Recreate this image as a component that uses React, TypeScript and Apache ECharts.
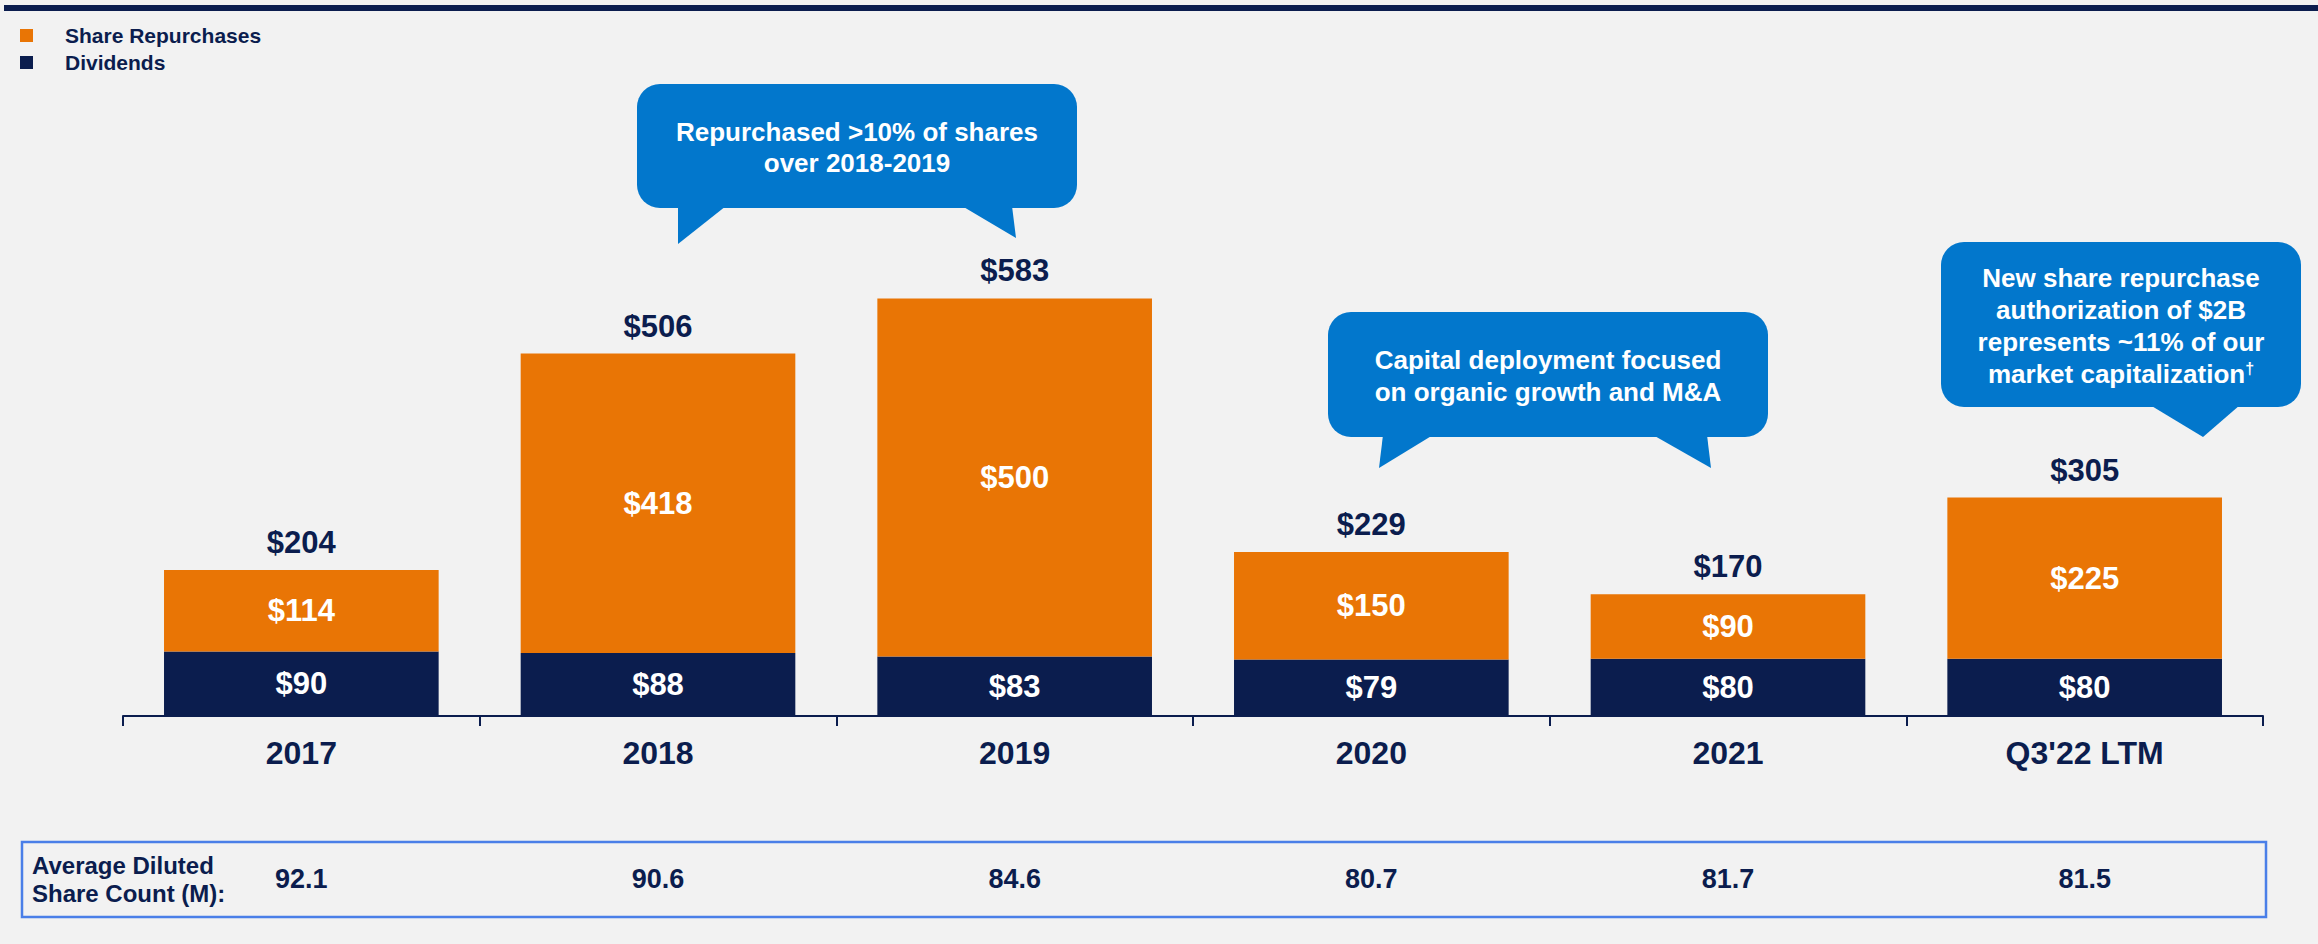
import React, { useEffect, useRef } from "react";
import * as echarts from "echarts";

const categories = ["2017", "2018", "2019", "2020", "2021", "Q3'22 LTM"];
const dividends = [90, 88, 83, 79, 80, 80];
const repurchases = [114, 418, 500, 150, 90, 225];
const totals = [204, 506, 583, 229, 170, 305];
const shareCounts = ["92.1", "90.6", "84.6", "80.7", "81.7", "81.5"];
const seriesNames = ["Share Repurchases", "Dividends"];
const callout1 = "Repurchased >10% of shares\nover 2018-2019";
const callout2 = "Capital deployment focused\non organic growth and M&A";
const callout3Lines = ["New share repurchase", "authorization of $2B", "represents ~11% of our"];
const callout3Last = "market capitalization";
const tableTitle = "Average Diluted\nShare Count (M):";

const NAVY = "#0b1d4e";
const ORANGE = "#e97505";
const BLUE = "#0277cc";
const FONT = "'Liberation Sans', Arial, Helvetica, sans-serif";

function bubble(rect: number[], tails: number[][][], text: any, textPos: number[], lineHeight: number) {
  const children: any[] = [
    {
      type: "rect",
      shape: { x: rect[0], y: rect[1], width: rect[2], height: rect[3], r: 23 },
      style: { fill: BLUE },
    },
  ];
  tails.forEach((pts) => {
    children.push({ type: "polygon", shape: { points: pts }, style: { fill: BLUE } });
  });
  children.push({
    type: "text",
    x: textPos[0],
    y: textPos[1],
    style: {
      ...text,
      fill: "#ffffff",
      fontSize: 26,
      fontWeight: "bold",
      fontFamily: FONT,
      lineHeight,
      align: "center",
      verticalAlign: "middle",
    },
  });
  return { type: "group", silent: true, children };
}

export default function App() {
  const ref = useRef<HTMLDivElement>(null);
  useEffect(() => {
    if (!ref.current) return;
    const chart = echarts.init(ref.current, undefined, { renderer: "svg" });
    const labelCommon = {
      show: true,
      color: "#ffffff",
      fontSize: 31,
      fontWeight: "bold" as const,
      fontFamily: FONT,
      position: "inside" as const,
      formatter: (p: any) => "$" + p.value,
    };
    const option: any = {
      animation: false,
      backgroundColor: "#f2f2f2",
      textStyle: { fontFamily: FONT },
      legend: {
        data: seriesNames,
        orient: "vertical",
        left: 15,
        top: 20,
        itemWidth: 40,
        itemHeight: 13,
        itemGap: 6,
        icon: "path://M0,0H13V13H0ZM39.9,12.9H40V13H39.9Z",
        textStyle: { fontSize: 21, fontWeight: "bold", color: NAVY, fontFamily: FONT },
        selectedMode: false,
      },
      grid: { left: 123, right: 55, top: 143, bottom: 228 },
      xAxis: [
        {
          type: "category",
          data: categories,
          axisLine: { lineStyle: { color: NAVY, width: 2 } },
          axisTick: { show: true, length: 10, lineStyle: { color: NAVY, width: 2 } },
          axisLabel: {
            color: NAVY,
            fontSize: 32,
            fontWeight: "bold",
            fontFamily: FONT,
            margin: 21,
            lineHeight: 32,
          },
        },
        {
          type: "category",
          data: shareCounts,
          position: "bottom",
          offset: 140,
          axisLine: { show: false },
          axisTick: { show: false },
          axisLabel: {
            color: NAVY,
            fontSize: 27,
            fontWeight: "bold",
            fontFamily: FONT,
            margin: 9,
            lineHeight: 27,
          },
        },
      ],
      yAxis: { type: "value", min: 0, max: 800, show: false, splitLine: { show: false } },
      series: [
        {
          name: "Dividends",
          type: "bar",
          stack: "total",
          data: dividends,
          barWidth: "77%",
          itemStyle: { color: NAVY },
          label: labelCommon,
          silent: true,
        },
        {
          name: "Share Repurchases",
          type: "bar",
          stack: "total",
          data: repurchases,
          barWidth: "77%",
          itemStyle: { color: ORANGE },
          label: labelCommon,
          silent: true,
        },
        {
          name: "Total",
          type: "scatter",
          data: totals,
          symbolSize: 0,
          silent: true,
          itemStyle: { opacity: 1, color: NAVY },
          label: {
            show: true,
            position: "top",
            distance: 12,
            color: NAVY,
            fontSize: 31,
            fontWeight: "bold",
            fontFamily: FONT,
            lineHeight: 31,
            formatter: (p: any) => "$" + p.value,
          },
        },
      ],
      graphic: [
        { type: "rect", silent: true, shape: { x: 4, y: 5, width: 2314, height: 6 }, style: { fill: NAVY } },
        {
          type: "rect",
          silent: true,
          shape: { x: 22, y: 842, width: 2244, height: 75 },
          style: { fill: "none", stroke: "#4a7fe8", lineWidth: 2.5 },
        },
        {
          type: "text",
          silent: true,
          x: 32,
          y: 879,
          style: {
            text: tableTitle,
            fill: NAVY,
            fontSize: 24,
            fontWeight: "bold",
            fontFamily: FONT,
            lineHeight: 28,
            align: "left",
            verticalAlign: "middle",
          },
        },
        bubble(
          [637, 84, 440, 124],
          [
            [[678, 206], [678, 244], [726, 206]],
            [[962, 206], [1016, 238], [1012, 206]],
          ],
          { text: callout1 },
          [857, 147.5],
          31
        ),
        bubble(
          [1328, 312, 440, 125],
          [
            [[1383, 435], [1379, 468], [1433, 435]],
            [[1653, 435], [1711, 468], [1707, 435]],
          ],
          { text: callout2 },
          [1548, 376],
          32
        ),
        bubble(
          [1941, 242, 360, 165],
          [[[2150, 405], [2203, 437], [2240, 405]]],
          {
            text: callout3Lines.join("\n") + "\n" + callout3Last + "{sup|†}",
            rich: {
              sup: {
                fontSize: 16,
                fontWeight: "bold",
                fontFamily: FONT,
                fill: "#ffffff",
                color: "#ffffff",
                padding: [0, 0, 12, 0],
                lineHeight: 32,
              },
            },
          },
          [2121, 326],
          32
        ),
      ],
    };
    chart.setOption(option);
    return () => chart.dispose();
  }, []);
  return (
    <div
      ref={ref}
      style={{ position: "absolute", left: 0, top: 0, width: 2318, height: 944 }}
    />
  );
}
